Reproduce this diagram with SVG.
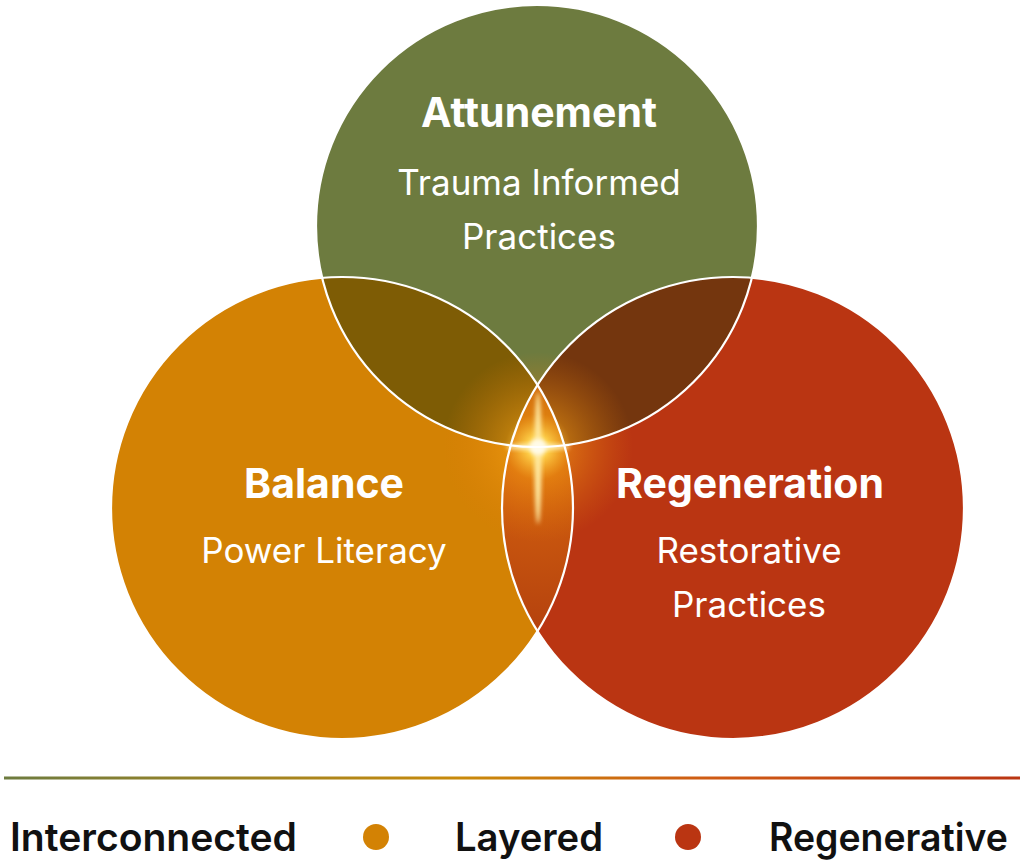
<svg xmlns="http://www.w3.org/2000/svg" width="1024" height="865" viewBox="0 0 1024 865">
<style>
.title{font-family:Inter,"Noto Sans","Liberation Sans",sans-serif;font-weight:700;font-size:41px;fill:#fff;text-anchor:middle}
.sub{font-family:Inter,"Noto Sans","Liberation Sans",sans-serif;font-weight:400;font-size:35px;fill:#fff;text-anchor:middle}
.leg{font-family:Inter,"Noto Sans","Liberation Sans",sans-serif;font-weight:600;font-size:39px;fill:#111}
.ring{fill:none;stroke:#fff;stroke-width:2.2}
</style>
<defs>
<clipPath id="cTop"><circle cx="537" cy="226" r="221"/></clipPath>
<clipPath id="cLeft"><circle cx="342" cy="508" r="231"/></clipPath>
<clipPath id="cRight"><circle cx="733" cy="508" r="231"/></clipPath>
<linearGradient id="lineG" x1="0" y1="0" x2="1" y2="0">
<stop offset="0" stop-color="#6D7B3F"/>
<stop offset="0.45" stop-color="#C98A0A"/>
<stop offset="0.7" stop-color="#CF5A14"/>
<stop offset="1" stop-color="#BA3512"/>
</linearGradient>
<radialGradient id="glow" cx="538" cy="447" r="95" gradientUnits="userSpaceOnUse">
<stop offset="0" stop-color="#FFF6C8" stop-opacity="1"/>
<stop offset="0.12" stop-color="#FFD24A" stop-opacity="0.95"/>
<stop offset="0.35" stop-color="#F29A12" stop-opacity="0.5"/>
<stop offset="1" stop-color="#E07A0A" stop-opacity="0"/>
</radialGradient>
<radialGradient id="lensG" cx="538" cy="450" r="190" gradientUnits="userSpaceOnUse">
<stop offset="0" stop-color="#D8660E"/>
<stop offset="1" stop-color="#B3400E"/>
</radialGradient>
<filter id="blur" x="-50%" y="-50%" width="200%" height="200%"><feGaussianBlur stdDeviation="2"/></filter>
</defs>
<rect width="1024" height="865" fill="#fff"/>

<g id="circles">
<circle id="c-top" cx="537" cy="226" r="221" fill="#6D7B3F"/>
<circle id="c-left" cx="342" cy="508" r="231" fill="#D38204"/>
<circle id="c-right" cx="733" cy="508" r="231" fill="#BA3512"/>
</g>

<g id="overlaps">
<g clip-path="url(#cTop)"><circle cx="342" cy="508" r="231" fill="#7E5C05"/></g>
<g clip-path="url(#cTop)"><circle cx="733" cy="508" r="231" fill="#74360E"/></g>
<g clip-path="url(#cLeft)"><circle cx="733" cy="508" r="231" fill="url(#lensG)"/></g>
<g clip-path="url(#cLeft)"><g clip-path="url(#cTop)"><circle cx="733" cy="508" r="231" fill="#C8620C"/></g></g>
</g>

<g id="glow-center">
<circle cx="538" cy="447" r="95" fill="url(#glow)"/>
<ellipse cx="538" cy="458" rx="3.5" ry="66" fill="#FFE9A0" filter="url(#blur)"/>
<ellipse cx="538" cy="447" rx="32" ry="3" fill="#FFF0B8" filter="url(#blur)"/>
<circle cx="538" cy="447" r="8" fill="#FFFBE8" filter="url(#blur)"/>
</g>

<g id="outlines">
<circle class="ring" cx="537" cy="226" r="221"/>
<circle class="ring" cx="342" cy="508" r="231"/>
<circle class="ring" cx="733" cy="508" r="231"/>
</g>

<g id="node-attunement">
<text class="title" x="539" y="127">Attunement</text>
<text class="sub" x="539" y="195">Trauma Informed</text>
<text class="sub" x="539" y="249">Practices</text>
</g>
<g id="node-balance">
<text class="title" x="324" y="498">Balance</text>
<text class="sub" x="324" y="563">Power Literacy</text>
</g>
<g id="node-regeneration">
<text class="title" x="750" y="498">Regeneration</text>
<text class="sub" x="749" y="563">Restorative</text>
<text class="sub" x="749" y="617">Practices</text>
</g>

<g id="legend">
<rect x="4" y="776.5" width="1016" height="3" fill="url(#lineG)"/>
<text class="leg" x="10" y="851" textLength="287" lengthAdjust="spacingAndGlyphs">Interconnected</text>
<circle cx="376" cy="837" r="13" fill="#D38204"/>
<text class="leg" x="455" y="851" textLength="148" lengthAdjust="spacingAndGlyphs">Layered</text>
<circle cx="688" cy="837" r="13" fill="#BA3512"/>
<text class="leg" x="769" y="851" textLength="239" lengthAdjust="spacingAndGlyphs">Regenerative</text>
</g>
</svg>
